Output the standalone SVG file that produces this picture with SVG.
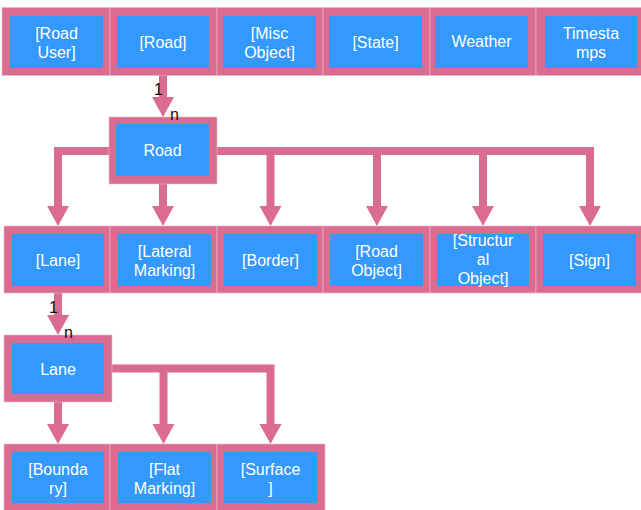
<svg xmlns="http://www.w3.org/2000/svg" width="641" height="510" viewBox="0 0 641 510">
<style>
.o{fill:#DA6C90;stroke:#EDB8CA;stroke-width:0.6}
.i{fill:#3399FF}
.t{font-family:"Liberation Sans",Arial,sans-serif;font-size:16px;fill:#ffffff;text-anchor:middle}
.c{fill:none;stroke:#DA6C90;stroke-width:8;stroke-linejoin:miter;stroke-linecap:butt}
.a{fill:#DA6C90}
.l{font-family:"Liberation Sans",Arial,sans-serif;font-size:16px;fill:#111111}
</style>
<rect width="641" height="510" fill="#ffffff"/>
<g id="top-row">
<g id="n-roaduser"><rect class="o" x="2" y="7.5" width="108" height="68"/><rect class="i" x="10" y="16" width="93" height="52"/><text class="t" x="56.5" y="39">[Road</text><text class="t" x="56.5" y="58">User]</text></g>
<g id="n-roadref"><rect class="o" x="110" y="7.5" width="107" height="68"/><rect class="i" x="117" y="16" width="92" height="52"/><text class="t" x="163" y="48">[Road]</text></g>
<g id="n-misc"><rect class="o" x="217" y="7.5" width="106" height="68"/><rect class="i" x="223" y="16" width="93" height="52"/><text class="t" x="269.5" y="39">[Misc</text><text class="t" x="269.5" y="58">Object]</text></g>
<g id="n-state"><rect class="o" x="323" y="7.5" width="107" height="68"/><rect class="i" x="329" y="16" width="93" height="52"/><text class="t" x="375.5" y="48">[State]</text></g>
<g id="n-weather"><rect class="o" x="430" y="7.5" width="106" height="68"/><rect class="i" x="435" y="16" width="93" height="52"/><text class="t" x="481.5" y="47">Weather</text></g>
<g id="n-timestamps"><rect class="o" x="536" y="7.5" width="107" height="68"/><rect class="i" x="545" y="16" width="92" height="52"/><text class="t" x="591" y="39">Timesta</text><text class="t" x="591" y="58">mps</text></g>
</g>
<g id="connectors">
<path class="c" d="M163,75.5 V98"/>
<polygon class="a" points="152,97 174,97 163,117"/>
<path class="c" d="M109,151 H58 V207"/>
<polygon class="a" points="47,206 69,206 58,226"/>
<path class="c" d="M163,184 V207"/>
<polygon class="a" points="152,206 174,206 163,226"/>
<path class="c" d="M217,151 H590 V207"/>
<path class="c" d="M270.5,151 V207"/>
<path class="c" d="M377,151 V207"/>
<path class="c" d="M483,151 V207"/>
<polygon class="a" points="259.5,206 281.5,206 270.5,226"/>
<polygon class="a" points="366,206 388,206 377,226"/>
<polygon class="a" points="472,206 494,206 483,226"/>
<polygon class="a" points="579,206 601,206 590,226"/>
<path class="c" d="M58,293 V316"/>
<polygon class="a" points="47,315 69,315 58,335"/>
<path class="c" d="M58,402 V425"/>
<polygon class="a" points="47,424 69,424 58,444"/>
<path class="c" d="M112,368.5 H270.5 V425"/>
<path class="c" d="M163.5,368.5 V425"/>
<polygon class="a" points="152.5,424 174.5,424 163.5,444"/>
<polygon class="a" points="259.5,424 281.5,424 270.5,444"/>
</g>
<g id="n-road"><rect class="o" x="109" y="117" width="108" height="67"/><rect class="i" x="116" y="124" width="93" height="52"/><text class="t" x="162.5" y="156">Road</text></g>
<g id="row-2">
<g id="n-laneref"><rect class="o" x="4" y="226" width="106" height="67"/><rect class="i" x="12" y="234" width="92" height="52"/><text class="t" x="58" y="266">[Lane]</text></g>
<g id="n-lateral"><rect class="o" x="110" y="226" width="107" height="67"/><rect class="i" x="118" y="234" width="93" height="52"/><text class="t" x="164.5" y="257">[Lateral</text><text class="t" x="164.5" y="276">Marking]</text></g>
<g id="n-border"><rect class="o" x="217" y="226" width="106" height="67"/><rect class="i" x="224" y="234" width="93" height="52"/><text class="t" x="270.5" y="266">[Border]</text></g>
<g id="n-roadobject"><rect class="o" x="323" y="226" width="107" height="67"/><rect class="i" x="330" y="234" width="93" height="52"/><text class="t" x="376.5" y="257">[Road</text><text class="t" x="376.5" y="276">Object]</text></g>
<g id="n-structural"><rect class="o" x="430" y="226" width="106" height="67"/><rect class="i" x="437" y="234" width="92" height="52"/><text class="t" x="483" y="246">[Structur</text><text class="t" x="483" y="265">al</text><text class="t" x="483" y="284">Object]</text></g>
<g id="n-sign"><rect class="o" x="536" y="226" width="107" height="67"/><rect class="i" x="543" y="234" width="93" height="52"/><text class="t" x="589.5" y="266">[Sign]</text></g>
</g>
<g id="n-lane"><rect class="o" x="4" y="335" width="108" height="67"/><rect class="i" x="12" y="343" width="92" height="51"/><text class="t" x="58" y="375">Lane</text></g>
<g id="bottom-row">
<g id="n-boundary"><rect class="o" x="4" y="444" width="106" height="70"/><rect class="i" x="12" y="452" width="92" height="51"/><text class="t" x="58" y="474.5">[Bounda</text><text class="t" x="58" y="493.5">ry]</text></g>
<g id="n-flat"><rect class="o" x="110" y="444" width="107" height="70"/><rect class="i" x="118" y="452" width="93" height="51"/><text class="t" x="164.5" y="474.5">[Flat</text><text class="t" x="164.5" y="493.5">Marking]</text></g>
<g id="n-surface"><rect class="o" x="217" y="444" width="108" height="70"/><rect class="i" x="224" y="452" width="93" height="51"/><text class="t" x="270.5" y="474.5">[Surface</text><text class="t" x="270.5" y="493.5">]</text></g>
</g>
<g id="edge-labels">
<text class="l" x="154" y="95">1</text>
<text class="l" x="170" y="120">n</text>
<text class="l" x="49" y="313">1</text>
<text class="l" x="64" y="338">n</text>
</g>
</svg>
